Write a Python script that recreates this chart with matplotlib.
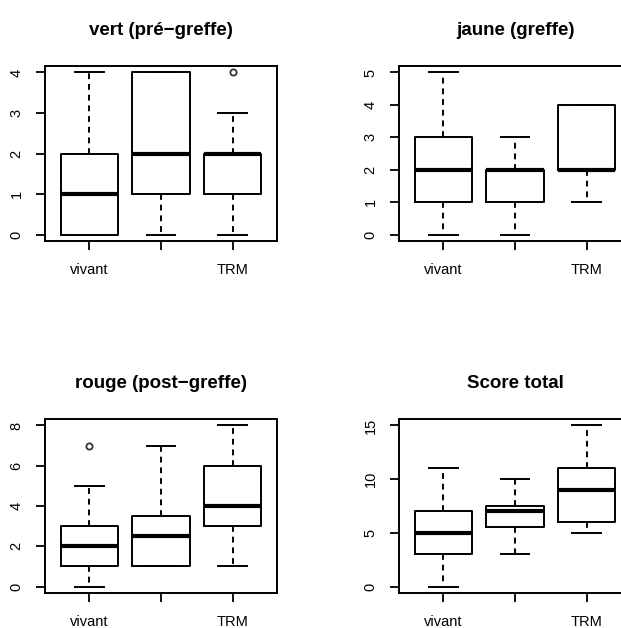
import matplotlib
matplotlib.use("Agg")
import matplotlib.pyplot as plt

plt.rcParams['font.family'] = ['Liberation Sans', 'DejaVu Sans']

groups = ["vivant", "", "TRM"]

# five-number summaries per group: (whisker low, q1, median, q3, whisker high)
vert_stats = [(0, 0, 1, 2, 4), (0, 1, 2, 4, 4), (0, 1, 2, 2, 3)]
vert_fliers = [[], [], [4]]

jaune_stats = [(0, 1, 2, 3, 5), (0, 1, 2, 2, 3), (1, 2, 2, 4, 4)]
jaune_fliers = [[], [], []]

rouge_stats = [(0, 1, 2, 3, 5), (1, 1, 2.5, 3.5, 7), (1, 3, 4, 6, 8)]
rouge_fliers = [[7], [], []]

total_stats = [(0, 3, 5, 7, 11), (3, 5.5, 7, 7.5, 10), (5, 6, 9, 11, 15)]
total_fliers = [[], [], []]

panels = [
    ("vert (pré\u2212greffe)", vert_stats, vert_fliers, [0, 1, 2, 3, 4], (0, 4)),
    ("jaune (greffe)", jaune_stats, jaune_fliers, [0, 1, 2, 3, 4, 5], (0, 5)),
    ("rouge (post\u2212greffe)", rouge_stats, rouge_fliers, [0, 2, 4, 6, 8], (0, 8)),
    ("Score total", total_stats, total_fliers, [0, 5, 10, 15], (0, 15)),
]

W, H = 621, 628
fig = plt.figure(figsize=(W / 100, H / 100), dpi=100)

# pixel boxes (left, top, width, height)
boxes = [(45, 66, 232, 175), (399, 66, 232, 175),
         (45, 419, 232, 174), (399, 419, 232, 174)]

for (title, stats, fliers, yticks, (lo, hi)), (l, t, w, h) in zip(panels, boxes):
    ax = fig.add_axes([l / W, 1 - (t + h) / H, w / W, h / H])
    bxp_stats = []
    for s, f in zip(stats, fliers):
        bxp_stats.append(dict(whislo=s[0], q1=s[1], med=s[2], q3=s[3], whishi=s[4], fliers=f))
    ax.bxp(bxp_stats, positions=[1, 2, 3], widths=0.8, showfliers=True,
           boxprops=dict(color="black", linewidth=1.4),
           medianprops=dict(color="black", linewidth=3.0, solid_capstyle="butt"),
           whiskerprops=dict(color="black", linewidth=1.4, linestyle=(0, (3, 2.5))),
           capprops=dict(color="black", linewidth=1.4),
           capwidths=0.4,
           flierprops=dict(marker="o", markersize=4.5, markerfacecolor="none",
                           markeredgecolor="#333333", markeredgewidth=1.3))
    pad = (hi - lo) * 0.04
    ax.set_ylim(lo - pad, hi + pad)
    ax.set_xlim(0.38, 3.62)
    ax.set_yticks(yticks)
    ax.set_yticklabels([str(v) for v in yticks], rotation=90, va="center", fontsize=10.5)
    ax.set_xticks([1, 2, 3])
    ax.set_xticklabels(groups, fontsize=10.5)
    ax.tick_params(direction="out", length=6.5, width=1.3, pad=9)
    for sp in ax.spines.values():
        sp.set_linewidth(1.4)
    ax.set_title(title, fontsize=13.5, fontweight="bold", pad=22.5)

fig.savefig("out.png", dpi=100)
